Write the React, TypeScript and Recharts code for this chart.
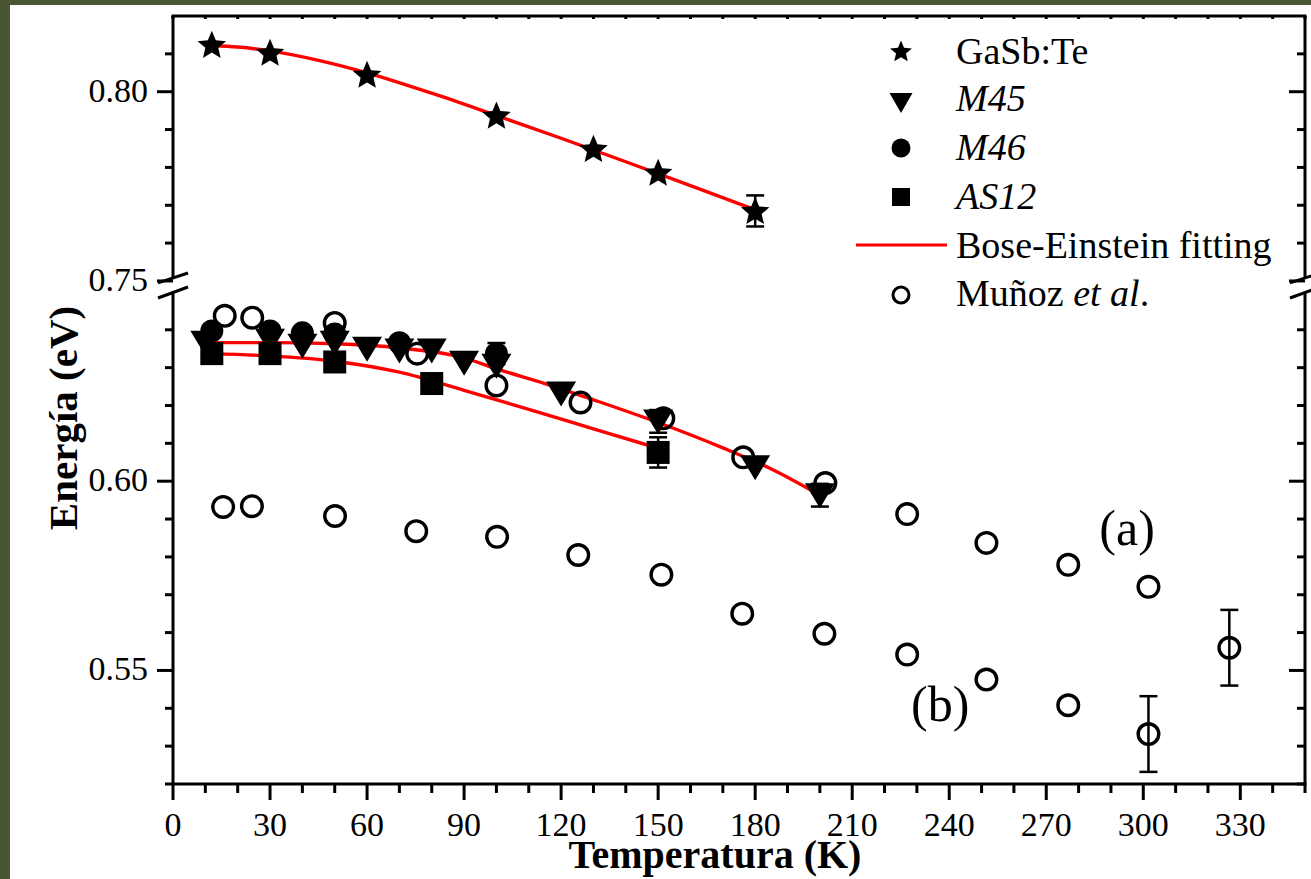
import React from 'react';
import {
  ComposedChart,
  Scatter,
  Line,
  XAxis,
  YAxis,
  ErrorBar,
  ReferenceLine,
  ReferenceDot,
  Legend,
  Label,
} from 'recharts';

const FONT = "'Liberation Serif', 'Times New Roman', Times, serif";
const W = 1311;
const H = 879;

// ---------- data (T in K, E in eV) ----------
const gasbT = [12, 30, 60, 100, 130, 150, 180];
const gasbE = [0.8124, 0.8103, 0.8045, 0.7937, 0.7849, 0.7786, 0.7685];
const gasbErr = [null, null, null, null, null, null, 0.0041];

const m45T = [10, 30, 40, 50, 60, 70, 80, 90, 100, 120, 150, 180, 200];
const m45E = [0.6366, 0.6371, 0.6358, 0.6366, 0.635, 0.6345, 0.6345, 0.6313, 0.6305, 0.6232, 0.6158, 0.6037, 0.5963];
const m45Err = [null, null, null, null, null, null, null, null, null, null, 0.003, null, 0.003];

const m46T = [12, 30, 40, 50, 70, 100];
const m46E = [0.6397, 0.6397, 0.6392, 0.6389, 0.6366, 0.6337];
const m46Err = [null, null, null, null, null, 0.0028];

const as12T = [12, 30, 50, 80, 150];
const as12E = [0.6337, 0.6337, 0.6315, 0.6258, 0.6076];
const as12Err = [null, null, null, null, 0.004];

const munozAT = [16, 24.5, 50, 75.5, 100, 126, 151.6, 176.3, 201.7, 227, 251.5, 276.8, 301.6, 326.6];
const munozAE = [0.6437, 0.6432, 0.6418, 0.6337, 0.6253, 0.6208, 0.6166, 0.6063, 0.5995, 0.5913, 0.5837, 0.5779, 0.5721, 0.556];
const munozAErr = [null, null, null, null, null, null, null, null, null, null, null, null, null, 0.01];

const munozBT = [15.5, 24.4, 50.1, 75.2, 100.2, 125.3, 151, 176, 201.4, 227, 251.5, 276.8, 301.6];
const munozBE = [0.5932, 0.5934, 0.5908, 0.5868, 0.5853, 0.5805, 0.5753, 0.565, 0.5597, 0.5542, 0.5476, 0.5408, 0.5332];
const munozBErr = [null, null, null, null, null, null, null, null, null, null, null, null, 0.01];

const fitGasbT = [12, 20, 30, 45, 60, 80, 100, 120, 140, 160, 180];
const fitGasbE = [0.8122, 0.8118, 0.8108, 0.8083, 0.805, 0.7996, 0.7937, 0.7877, 0.7815, 0.7752, 0.7688];

const fitMT = [12, 30, 50, 70, 90, 100, 115, 130, 150, 170, 185, 200];
const fitME = [0.6366, 0.6366, 0.6363, 0.6352, 0.6326, 0.6297, 0.6258, 0.6215, 0.6155, 0.6088, 0.6032, 0.5963];

const fitAST = [12, 30, 50, 70, 90, 110, 130, 150];
const fitASE = [0.6337, 0.6331, 0.6317, 0.6288, 0.624, 0.619, 0.6138, 0.6087];

const xTicks = [0, 10, 20, 30, 40, 50, 60, 70, 80, 90, 100, 110, 120, 130, 140, 150, 160, 170, 180, 190, 200, 210, 220, 230, 240, 250, 260, 270, 280, 290, 300, 310, 320, 330, 340, 350];
const xMajor = [0, 30, 60, 90, 120, 150, 180, 210, 240, 270, 300, 330];
const yTicksLower = [0.52, 0.53, 0.54, 0.55, 0.56, 0.57, 0.58, 0.59, 0.6, 0.61, 0.62, 0.63, 0.64];
const yTicksUpper = [0.75, 0.76, 0.77, 0.78, 0.79, 0.8, 0.81];
const yMajor = [0.55, 0.6, 0.75, 0.8];

const legendNames = ['GaSb:Te', 'M45', 'M46', 'AS12', 'Bose-Einstein fitting', 'Muñoz'];

// ---------- broken y axis ----------
const GAP = 0.0971; // collapsed span between 0.6529 and 0.75
const Y_MIN = 0.52;
const Y_MAX = 0.82 - GAP;
const tf = (v: number) => (v > 0.7 ? v - GAP : v);
const orig = (d: number) => Math.round((d > 0.652 ? d + GAP : d) * 100) / 100;
const yTicks = [...yTicksLower, ...yTicksUpper.map(tf)];
const BRK_LO = 0.6497;
const BRK_HI = 0.6534;

const rows = (ts: number[], es: number[], errs?: (number | null)[]) =>
  ts.map((t, i) => ({ t, e: tf(es[i]), err: errs ? errs[i] : null }));

const gasbData = rows(gasbT, gasbE, gasbErr);
const m45Data = rows(m45T, m45E, m45Err);
const m46Data = rows(m46T, m46E, m46Err);
const as12Data = rows(as12T, as12E, as12Err);
const munozAData = rows(munozAT, munozAE, munozAErr);
const munozBData = rows(munozBT, munozBE, munozBErr);
const fitGasbData = rows(fitGasbT, fitGasbE);
const fitMData = rows(fitMT, fitME);
const fitASData = rows(fitAST, fitASE);

// ---------- marker shapes ----------
const starPts = (cx: number, cy: number, R: number, r: number) => {
  const p: string[] = [];
  for (let i = 0; i < 10; i++) {
    const rad = i % 2 === 0 ? R : r;
    const a = -Math.PI / 2 + (i * Math.PI) / 5;
    p.push(`${cx + rad * Math.cos(a)},${cy + rad * Math.sin(a)}`);
  }
  return p.join(' ');
};
const Star = (p: any) => <polygon points={starPts(p.cx, p.cy + 1, 15, 6.8)} fill="#000" />;
const Tri = (p: any) => (
  <polygon points={`${p.cx - 15},${p.cy - 12} ${p.cx + 15},${p.cy - 12} ${p.cx},${p.cy + 13}`} fill="#000" />
);
const Dot = (p: any) => <circle cx={p.cx} cy={p.cy} r={11.5} fill="#000" />;
const Sq = (p: any) => <rect x={p.cx - 11.5} y={p.cy - 11.5} width={23} height={23} fill="#000" />;
const Ring = (p: any) => <circle cx={p.cx} cy={p.cy} r={10.3} fill="none" stroke="#000" strokeWidth={3.4} />;

// ---------- axis ticks ----------
const XTick = (p: any) => {
  const v = p.payload.value;
  const major = xMajor.includes(v);
  const y0 = 784;
  return (
    <g>
      <line x1={p.x} x2={p.x} y1={y0} y2={y0 + (major ? 16 : 9)} stroke="#000" strokeWidth={3} />
      {major && (
        <text x={p.x} y={y0 + 52} textAnchor="middle" fontSize={34} fontFamily={FONT} fill="#000">
          {v}
        </text>
      )}
    </g>
  );
};
const XTopTick = (p: any) => (
  <line x1={p.x} x2={p.x} y1={16} y2={19} stroke="#000" strokeWidth={3} />
);
const YTick = (p: any) => {
  const o = orig(p.payload.value);
  const major = yMajor.some((m) => Math.abs(m - o) < 1e-6);
  const x0 = 173;
  return (
    <g>
      <line x1={x0} x2={x0 - (major ? 16 : 8)} y1={p.y} y2={p.y} stroke="#000" strokeWidth={3} />
      {major && (
        <text x={x0 - 25} y={p.y + 10} textAnchor="end" fontSize={34} fontFamily={FONT} fill="#000">
          {o.toFixed(2)}
        </text>
      )}
    </g>
  );
};
const YRightTick = (p: any) => {
  const o = orig(p.payload.value);
  const major = yMajor.some((m) => Math.abs(m - o) < 1e-6);
  const x0 = 1305;
  return <line x1={x0} x2={x0 - (major ? 16 : 8)} y1={p.y} y2={p.y} stroke="#000" strokeWidth={3} />;
};

const XTitle = () => (
  <text x={715} y={868} textAnchor="middle" fontSize={40} fontWeight="bold" fontFamily={FONT} fill="#000">
    Temperatura (K)
  </text>
);
const YTitle = () => (
  <text
    x={77}
    y={418}
    transform="rotate(-90, 77, 418)"
    textAnchor="middle"
    fontSize={41}
    fontWeight="bold"
    fontFamily={FONT}
    fill="#000"
  >
    Energía (eV)
  </text>
);

const LegendBox = () => {
  const tx = 116;
  const ts = { fontSize: 38, fontFamily: FONT, fill: '#000' } as any;
  return (
    <svg width={460} height={320} style={{ display: 'block' }}>
      <polygon points={starPts(61, 52, 11.5, 5.2)} fill="#000" />
      <text x={tx} y={64} {...ts}>{legendNames[0]}</text>
      <polygon points="49.5,93 72.5,93 61,113" fill="#000" />
      <text x={tx} y={111} {...ts} fontStyle="italic">{legendNames[1]}</text>
      <circle cx={61} cy={148} r={9.5} fill="#000" />
      <text x={tx} y={160} {...ts} fontStyle="italic">{legendNames[2]}</text>
      <rect x={52} y={188} width={18} height={18} fill="#000" />
      <text x={tx} y={209} {...ts} fontStyle="italic">{legendNames[3]}</text>
      <line x1={16} x2={107} y1={245} y2={245} stroke="#ff0000" strokeWidth={3} />
      <text x={tx} y={258} {...ts}>{legendNames[4]}</text>
      <circle cx={61} cy={295} r={8} fill="none" stroke="#000" strokeWidth={3} />
      <text x={tx} y={306} {...ts}>
        {legendNames[5] + ' '}
        <tspan fontStyle="italic">et al</tspan>.
      </text>
    </svg>
  );
};

const axisSeg = { stroke: '#000', strokeWidth: 3, ifOverflow: 'visible' as const };

export default function App() {
  return (
    <div style={{ position: 'absolute', left: 0, top: 0, width: W, height: H, background: '#4a5631', overflow: 'hidden' }}>
      <div style={{ position: 'absolute', left: 10, top: 5, width: W - 10, height: H - 5, background: '#ffffff' }} />
      <div style={{ position: 'absolute', left: 0, top: 0 }}>
        <ComposedChart width={W} height={H} margin={{ top: 15, right: 5, bottom: 94, left: 172 }}>
          <XAxis
            type="number"
            dataKey="t"
            domain={[0, 350]}
            ticks={xTicks}
            interval={0}
            height={1}
            tickSize={0}
            tickMargin={0}
            tickLine={false}
            axisLine={{ stroke: '#000', strokeWidth: 3, strokeLinecap: 'square' }}
            tick={XTick}
            allowDataOverflow
          >
            <Label content={XTitle} />
          </XAxis>
          <XAxis
            xAxisId="top"
            orientation="top"
            type="number"
            dataKey="t"
            domain={[0, 350]}
            ticks={xTicks}
            interval={0}
            height={1}
            tickSize={0}
            tickMargin={0}
            tickLine={false}
            axisLine={{ stroke: '#000', strokeWidth: 3, strokeLinecap: 'square' }}
            tick={XTopTick}
            allowDataOverflow
          />
          <YAxis
            type="number"
            dataKey="e"
            domain={[Y_MIN, Y_MAX]}
            ticks={yTicks}
            interval={0}
            width={1}
            tickSize={0}
            tickMargin={0}
            tickLine={false}
            axisLine={false}
            tick={YTick}
            allowDataOverflow
          >
            <Label content={YTitle} />
          </YAxis>
          <YAxis
            yAxisId="right"
            orientation="right"
            type="number"
            dataKey="e"
            domain={[Y_MIN, Y_MAX]}
            ticks={yTicks}
            interval={0}
            width={1}
            tickSize={0}
            tickMargin={0}
            tickLine={false}
            axisLine={false}
            tick={YRightTick}
            allowDataOverflow
          />

          {/* broken left / right axis lines */}
          <ReferenceLine segment={[{ x: 0, y: Y_MIN }, { x: 0, y: BRK_LO }]} {...axisSeg} />
          <ReferenceLine segment={[{ x: 0, y: BRK_HI }, { x: 0, y: Y_MAX }]} {...axisSeg} />
          <ReferenceLine segment={[{ x: -4.64, y: 0.6524 }, { x: 4.64, y: 0.655 }]} {...axisSeg} />
          <ReferenceLine segment={[{ x: -4.64, y: 0.6484 }, { x: 4.64, y: 0.6513 }]} {...axisSeg} />
          <ReferenceLine segment={[{ x: 350, y: Y_MIN }, { x: 350, y: BRK_LO }]} {...axisSeg} />
          <ReferenceLine segment={[{ x: 350, y: BRK_HI }, { x: 350, y: Y_MAX }]} {...axisSeg} />
          <ReferenceLine segment={[{ x: 345.36, y: 0.6524 }, { x: 354.64, y: 0.655 }]} {...axisSeg} />
          <ReferenceLine segment={[{ x: 345.36, y: 0.6484 }, { x: 354.64, y: 0.6513 }]} {...axisSeg} />

          <Scatter data={m45Data} shape={Tri} isAnimationActive={false}>
            <ErrorBar dataKey="err" direction="y" width={9} stroke="#000" strokeWidth={2.5} />
          </Scatter>
          <Scatter data={m46Data} shape={Dot} isAnimationActive={false}>
            <ErrorBar dataKey="err" direction="y" width={9} stroke="#000" strokeWidth={2.5} />
          </Scatter>
          <Scatter data={as12Data} shape={Sq} isAnimationActive={false}>
            <ErrorBar dataKey="err" direction="y" width={9} stroke="#000" strokeWidth={2.5} />
          </Scatter>
          <Scatter data={gasbData} shape={Star} isAnimationActive={false}>
            <ErrorBar dataKey="err" direction="y" width={9} stroke="#000" strokeWidth={2.5} />
          </Scatter>
          <Scatter data={munozAData} shape={Ring} isAnimationActive={false}>
            <ErrorBar dataKey="err" direction="y" width={9} stroke="#000" strokeWidth={2.5} />
          </Scatter>
          <Scatter data={munozBData} shape={Ring} isAnimationActive={false}>
            <ErrorBar dataKey="err" direction="y" width={9} stroke="#000" strokeWidth={2.5} />
          </Scatter>

          <Line data={fitGasbData} dataKey="e" type="monotone" stroke="#ff0000" strokeWidth={3.4} dot={false} activeDot={false} isAnimationActive={false} />
          <Line data={fitMData} dataKey="e" type="monotone" stroke="#ff0000" strokeWidth={3.4} dot={false} activeDot={false} isAnimationActive={false} />
          <Line data={fitASData} dataKey="e" type="monotone" stroke="#ff0000" strokeWidth={3.4} dot={false} activeDot={false} isAnimationActive={false} />

          <ReferenceDot x={295} y={0.5879} r={1} fill="none" stroke="none" ifOverflow="visible"
            label={{ value: '(a)', position: 'center', fontSize: 50, fontFamily: FONT, fill: '#000' }} />
          <ReferenceDot x={237.2} y={0.5414} r={1} fill="none" stroke="none" ifOverflow="visible"
            label={{ value: '(b)', position: 'center', fontSize: 50, fontFamily: FONT, fill: '#000' }} />

          <Legend
            layout="horizontal"
            verticalAlign="middle"
            align="center"
            content={LegendBox}
            wrapperStyle={{ left: 840, top: 0, width: 460, height: 320, margin: 0, padding: 0 }}
          />
        </ComposedChart>
      </div>
    </div>
  );
}
